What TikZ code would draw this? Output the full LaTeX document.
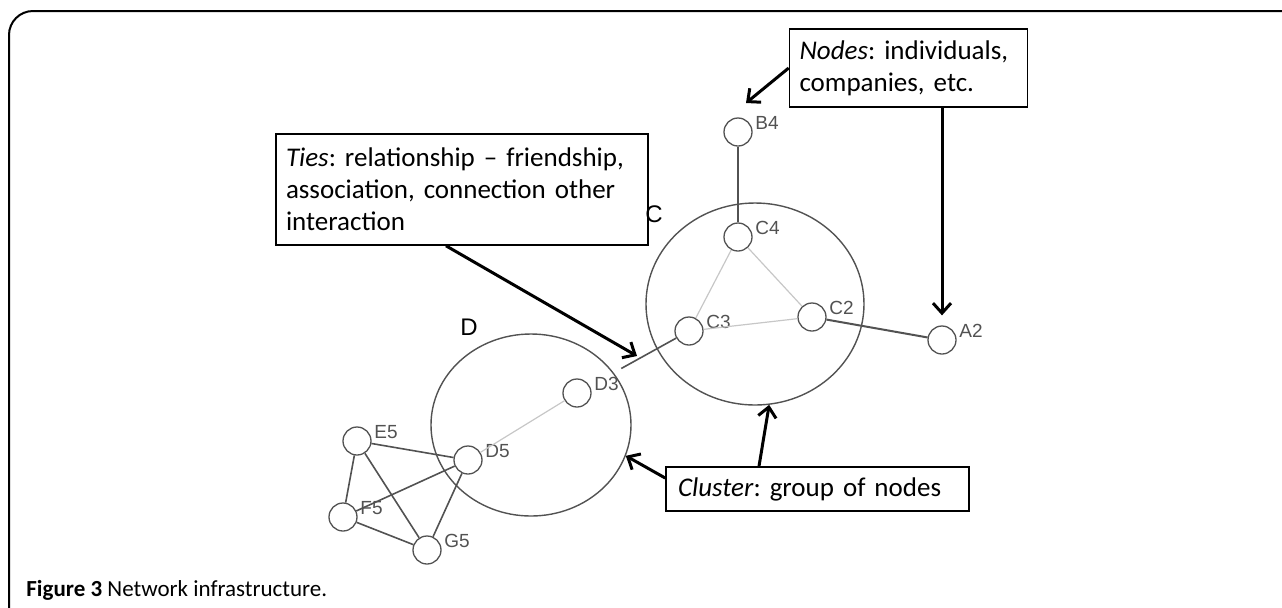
\documentclass[tikz,border=0pt]{standalone}
\usepackage{fontspec}
\setmainfont{Carlito}
\newfontfamily\arialf{Liberation Sans}
\usetikzlibrary{arrows.meta,calc,shapes.geometric}
\begin{document}
\frenchspacing
\begin{tikzpicture}[x=0.5pt,y=-0.5pt,
  vert/.style={circle,draw=black!68,line width=0.65pt,minimum size=14pt,inner sep=0pt},
  lab/.style={font=\arialf\fontsize{9.5}{10}\selectfont,text=black!68,inner sep=0pt,anchor=west},
  dark/.style={draw=black!68,line width=0.8pt},
  light/.style={draw=black!22,line width=0.6pt},
  clus/.style={ellipse,draw=black!68,line width=0.7pt,inner sep=0pt},
  callout/.style={draw=black,line width=0.8pt,inner xsep=5pt,inner ysep=0pt,font=\fontsize{13.5}{16}\selectfont\frenchspacing,align=left},
  pointer/.style={line width=1.5pt,-{Straight Barb[length=5pt,width=9pt]}}
]
\useasboundingbox (0,0) rectangle (1282,607);
\clip (0,0) rectangle (1282,607);
% frame
\draw[line width=1pt,rounded corners=12] (9,640) -- (9,11) -- (1300,11);

% clusters
\node[clus,minimum width=109pt,minimum height=101pt] (cC) at (755,304) {};
\node[clus,minimum width=100pt,minimum height=91pt] (cD) at (531,425) {};
\node[font=\arialf\fontsize{12}{14}\selectfont] (lC) at (654,214) {C};
\node[font=\arialf\fontsize{12}{14}\selectfont] (lD) at (469,327) {D};

% vertices
\foreach \n/\x/\y in {B4/738/132,C4/738/237,C3/689/331,C2/812/317,A2/942/340,D3/577/393,D5/468/460,E5/357/441,F5/343/517,G5/427/550}{
  \node[vert,fill=white] (\n) at (\x,\y) {};
  \node[lab] (l\n) at ($(\n)+(17,-9)$) {\n};
}

% edges
\draw[dark,line width=0.6pt] (B4) -- (C4);
\draw[light] (C4) -- (C3);
\draw[light] (C4) -- (C2);
\draw[light] (C3) -- (C2);
\draw[dark,line width=1pt] (C2) -- (A2);
\draw[dark] (C3) -- (D3) [shorten >=18pt];
\draw[light] (D3) -- (D5);
\draw[dark] (E5) -- (D5);
\draw[dark] (F5) -- (D5);
\draw[dark] (G5) -- (D5);
\draw[dark] (E5) -- (F5);
\draw[dark] (E5) -- (G5);
\draw[dark] (F5) -- (G5);

% callout boxes
\node[callout,text width=176pt,minimum height=55.5pt] (ties) at (462,189.5)
  {\textit{Ties}: relationship -- friendship,\\ association, connection other\\ interaction};
\node[callout,text width=109pt,minimum height=39pt] (nodesbox) at (908.5,68)
  {\textit{Nodes}: individuals,\\ companies, etc.};
\node[callout,text width=139.5pt,minimum height=22pt,inner xsep=6pt] (cluster) at (817.5,489)
  {\textit{Cluster}: group of nodes};

% pointers
\coordinate (tB4) at (746,103);
\coordinate (tTie) at (637,356);
\draw[pointer] (nodesbox.west) -- (tB4);
\draw[pointer,shorten >=5pt] (nodesbox.south -| A2) -- (A2);
\draw[pointer] (ties.south -| 446,0) -- (tTie);
\draw[pointer] (cluster.north -| 759,0) -- (cC.-82);
\draw[pointer] ($(cluster.west)+(0,-11)$) -- (cD.-18);

% caption
\node[anchor=base west,inner sep=0pt,font=\fontsize{11.5}{13}\selectfont] (cap) at (26,596)
  {\textbf{Figure 3} Network infrastructure.};
\end{tikzpicture}
\end{document}
